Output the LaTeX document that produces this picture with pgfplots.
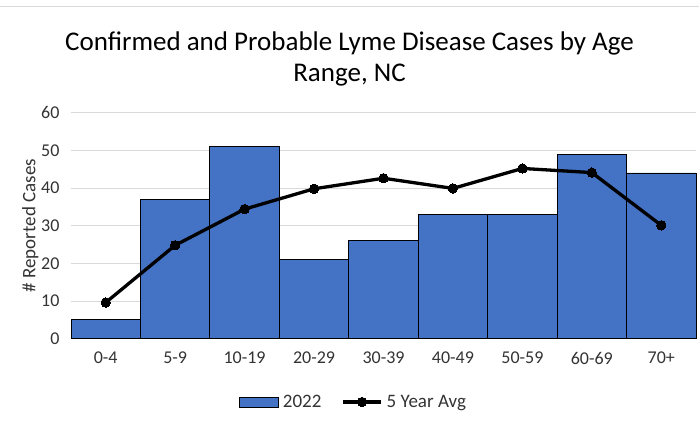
\documentclass[border=0pt]{standalone}
\usepackage{pgfplots}
\pgfplotsset{compat=1.18}
\usepackage{fontspec}
\setmainfont{Carlito}
\definecolor{barblue}{HTML}{4472C4}
\definecolor{gridgray}{HTML}{D9D9D9}
\definecolor{txtgray}{HTML}{333333}
\pgfplotsset{
  mylineleg/.style={legend image code/.code={\draw[##1, mark repeat=2, mark phase=2] plot coordinates {(0pt,0pt) (19pt,0pt) (38pt,0pt)};}},
  mybarleg/.style={legend image code/.code={\draw[fill=barblue, draw=black, line width=0.8pt] (0pt,-5pt) rectangle (39pt,5pt);}},
}
\begin{document}
\begin{tikzpicture}[x=1pt,y=1pt]
\useasboundingbox (0,0) rectangle (699,425);
\draw[gridgray, line width=1pt] (0,418) -- (699,418);
\node[font=\fontsize{27}{30}\selectfont] at (349.5,382) {Confirmed and Probable Lyme Disease Cases by Age};
\node[font=\fontsize{27}{30}\selectfont] at (349.5,350) {Range, NC};
\begin{axis}[
  at={(71pt,86.3pt)}, anchor=south west,
  scale only axis, width=625pt, height=226pt,
  xmin=-0.5, xmax=8.5, ymin=0, ymax=60,
  ytick={0,10,...,60},
  xtick={0,...,8},
  xticklabels={0-4,5-9,10-19,20-29,30-39,40-49,50-59,60-69,70+},
  axis lines*=left,
  axis line style={-},
  y axis line style={draw=none},
  x axis line style={draw=gridgray, line width=1pt},
  major tick length=0pt,
  ymajorgrids, grid style={gridgray, line width=1pt},
  tick label style={font=\fontsize{18}{18}\selectfont, text=txtgray},
  /pgf/number format/assume math mode=true,
  yticklabel style={xshift=-8pt},
  xticklabel style={yshift=-10pt},
  ylabel={\# Reported Cases},
  ylabel style={font=\fontsize{19}{19}\selectfont, text=txtgray, yshift=-4pt},
  legend style={at={(0.452,-0.28)}, anchor=center, draw=none, legend columns=2,
    font=\fontsize{19}{19}\selectfont, text=txtgray,
    /tikz/every even column/.append style={column sep=18pt},
    /tikz/every odd column/.append style={column sep=2pt}},
  clip=false,
]
\addplot[ybar, bar width=1, fill=barblue, draw=black, line width=0.8pt, mybarleg]
  coordinates {(0,5) (1,37) (2,51) (3,21) (4,26) (5,33) (6,33) (7,49) (8,44)};
\addlegendentry{2022}
\addplot[black, line width=3.3pt, mark=*, mark size=4.7pt, mark options={line width=0pt}, mylineleg]
  coordinates {(0,9.6) (1,24.8) (2,34.4) (3,39.8) (4,42.6) (5,39.9) (6,45.2) (7,44.1) (8,30.1)};
\addlegendentry{5 Year Avg}
\end{axis}
\end{tikzpicture}
\end{document}
